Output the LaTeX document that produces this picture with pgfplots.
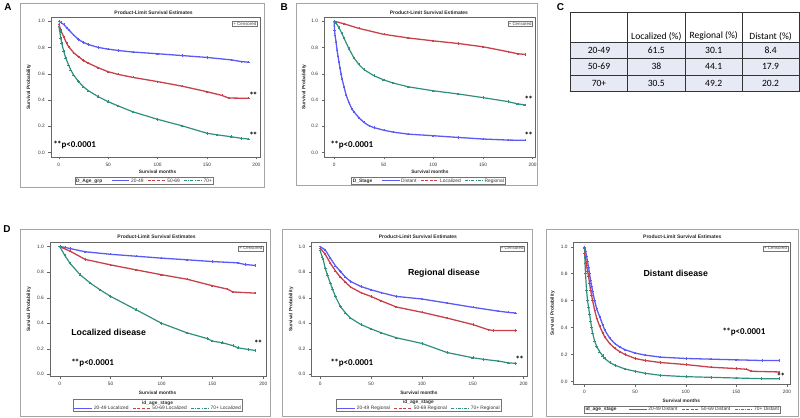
\documentclass[border=0pt]{standalone}
\usepackage{pgfplots}
\pgfplotsset{compat=1.18}
\usepackage{fontspec}
\setmainfont{Liberation Sans}
\newfontfamily\calib{Carlito}
\definecolor{bluec}{RGB}{90,90,245}
\definecolor{redc}{RGB}{200,64,74}
\definecolor{tealc}{RGB}{47,143,125}
\definecolor{framec}{RGB}{165,165,165}
\definecolor{tabfill}{RGB}{231,233,245}
\newcommand{\lgl}[2]{\tikz[baseline=-0.6ex]\draw[#1,line width=0.5pt,#2](0,0)--(18pt,0);}
\newcommand{\st}{*\kern-0.8pt*}
\tikzset{dsh/.style={dash pattern=on 3pt off 1.6pt}, dsd/.style={dash pattern=on 3pt off 1.3pt on 0.7pt off 1.3pt}}
\pgfplotsset{km/.style={scale only axis, anchor=south west,
  axis line style={black!60, line width=0.4pt}, tick style={black!60, line width=0.4pt},
  tick align=outside, tick pos=left, major tick length=2.5pt,
  xtick={0,50,100,150,200}, ytick={0,0.2,0.4,0.6,0.8,1},
  yticklabel style={/pgf/number format/.cd, fixed, fixed zerofill, precision=1},
  /pgf/number format/assume math mode=true,
  tick label style={font=\fontsize{4.8}{5}\selectfont, text=black!80},
  ymin=-0.033, ymax=1.03},
  cb/.style={bluec, line width=1.3pt, mark=+, mark size=1.1pt, mark options={line width=0.35pt}},
  cr/.style={redc, line width=1.3pt, mark=+, mark size=1.1pt, mark options={line width=0.35pt}},
  ct/.style={tealc, line width=1.2pt, mark=+, mark size=1.3pt, mark options={line width=0.4pt}}}
\begin{document}
\begin{tikzpicture}[x=1pt,y=1pt]
\path (0,0) rectangle (800,418);
% frames
\draw[framec, line width=0.8pt] (19,418-3) rectangle (263,418-188);
\draw[framec, line width=0.8pt] (295,418-3) rectangle (537,418-186);
\draw[framec, line width=0.8pt] (19,418-230) rectangle (269,418-417);
\draw[framec, line width=0.8pt] (281,418-230) rectangle (532,418-417);
\draw[framec, line width=0.8pt] (546,418-230) rectangle (798,418-417);

% ---------- Panel A ----------
\begin{axis}[km, at={(49pt,261pt)}, width=210pt, height=140pt, xmin=-8.1, xmax=204]
\addplot[cb] coordinates {(0,1.0)(2,0.99)(5,0.975)(8,0.95)(10,0.935)(15,0.895)(20,0.86)(25,0.838)(30,0.822)(40,0.80)(50,0.787)(60,0.777)(75,0.765)(100,0.752)(125,0.738)(150,0.724)(175,0.705)(185,0.692)(192,0.688)};
\addplot[cr] coordinates {(0,0.98)(2,0.93)(5,0.88)(8,0.83)(10,0.805)(15,0.76)(20,0.73)(25,0.70)(30,0.68)(40,0.645)(50,0.615)(60,0.595)(75,0.572)(100,0.54)(125,0.505)(150,0.463)(165,0.435)(172,0.415)(192,0.413)};
\addplot[ct] coordinates {(0,0.96)(1,0.92)(2,0.87)(3,0.83)(5,0.77)(7,0.72)(10,0.665)(12,0.63)(15,0.59)(20,0.54)(25,0.50)(30,0.47)(40,0.425)(50,0.387)(60,0.355)(75,0.31)(100,0.253)(125,0.203)(150,0.147)(160,0.135)(175,0.12)(185,0.108)(192,0.103)};
\end{axis}
% ---------- Panel B ----------
\begin{axis}[km, at={(323pt,261pt)}, width=212pt, height=140pt, xmin=-10, xmax=203]
\addplot[cb] coordinates {(0,1.0)(0.5,0.93)(1,0.89)(2,0.84)(3,0.78)(4,0.73)(5,0.685)(6,0.64)(7,0.60)(8,0.56)(10,0.50)(12,0.44)(15,0.38)(18,0.33)(20,0.31)(25,0.265)(30,0.23)(35,0.205)(40,0.19)(50,0.17)(60,0.155)(75,0.14)(100,0.128)(125,0.115)(150,0.103)(175,0.095)(192,0.093)};
\addplot[cr] coordinates {(0,1.0)(10,0.98)(25,0.945)(50,0.90)(75,0.872)(100,0.85)(125,0.83)(150,0.805)(175,0.768)(185,0.752)(192,0.747)};
\addplot[ct] coordinates {(0,1.0)(2,0.985)(5,0.95)(8,0.905)(10,0.87)(15,0.79)(20,0.72)(25,0.67)(30,0.632)(40,0.585)(50,0.553)(60,0.528)(75,0.50)(100,0.47)(125,0.446)(150,0.418)(175,0.388)(185,0.37)(192,0.363)};
\end{axis}
% ---------- Panel D1 ----------
\begin{axis}[km, at={(48pt,41pt)}, width=217pt, height=134pt, xmin=-9.8, xmax=203, ymin=-0.016, ymax=1.031]
\addplot[cb] coordinates {(0,1.0)(5,0.995)(10,0.985)(25,0.96)(50,0.94)(75,0.925)(100,0.91)(125,0.897)(150,0.883)(175,0.873)(182,0.86)(192,0.853)};
\addplot[cr] coordinates {(0,1.0)(10,0.965)(25,0.90)(50,0.857)(75,0.818)(100,0.78)(125,0.745)(150,0.694)(165,0.667)(170,0.645)(192,0.636)};
\addplot[ct] coordinates {(0,1.0)(5,0.93)(10,0.87)(20,0.78)(30,0.714)(40,0.66)(50,0.61)(75,0.506)(100,0.40)(125,0.325)(145,0.28)(150,0.26)(160,0.247)(170,0.225)(175,0.208)(185,0.195)(192,0.187)};
\end{axis}
% ---------- Panel D2 ----------
\begin{axis}[km, at={(310pt,41pt)}, width=217pt, height=134pt, xmin=-8.8, xmax=204, ymin=-0.016, ymax=1.031]
\addplot[cb] coordinates {(0,1.0)(5,0.975)(10,0.91)(15,0.85)(20,0.805)(25,0.76)(30,0.727)(40,0.688)(50,0.662)(60,0.64)(75,0.61)(100,0.59)(125,0.558)(150,0.525)(175,0.495)(185,0.485)(192,0.48)};
\addplot[cr] coordinates {(0,0.99)(5,0.94)(10,0.87)(15,0.81)(20,0.76)(25,0.72)(30,0.683)(40,0.64)(50,0.61)(60,0.575)(75,0.527)(100,0.486)(125,0.44)(150,0.39)(165,0.35)(170,0.343)(192,0.343)};
\addplot[ct] coordinates {(0,0.97)(2,0.92)(3,0.90)(5,0.83)(7,0.78)(10,0.714)(12,0.67)(15,0.61)(20,0.53)(25,0.48)(30,0.44)(40,0.39)(50,0.356)(60,0.325)(75,0.286)(100,0.242)(125,0.17)(150,0.13)(160,0.118)(175,0.104)(185,0.09)(192,0.086)};
\end{axis}
% ---------- Panel D3 ----------
\begin{axis}[km, at={(573pt,33pt)}, width=217pt, height=142pt, xmin=-10.8, xmax=203, ymin=-0.022, ymax=1.03]
\addplot[cb] coordinates {(0,1.0)(1,0.97)(2,0.93)(3,0.89)(4,0.85)(5,0.80)(6,0.75)(7,0.71)(8,0.67)(10,0.60)(12,0.54)(15,0.48)(18,0.42)(20,0.38)(25,0.32)(30,0.28)(35,0.255)(40,0.235)(50,0.21)(60,0.195)(75,0.18)(100,0.17)(125,0.165)(150,0.16)(175,0.155)(192,0.155)};
\addplot[cr] coordinates {(0,0.95)(1,0.92)(2,0.86)(3,0.82)(4,0.78)(5,0.73)(6,0.68)(7,0.64)(8,0.60)(10,0.53)(12,0.47)(15,0.41)(18,0.36)(20,0.33)(25,0.28)(30,0.245)(35,0.22)(40,0.20)(50,0.17)(60,0.155)(75,0.14)(100,0.125)(125,0.105)(150,0.095)(160,0.09)(165,0.075)(192,0.07)};
\addplot[ct] coordinates {(0,0.99)(0.5,0.88)(1,0.80)(2,0.68)(3,0.60)(4,0.55)(5,0.50)(6,0.45)(7,0.40)(8,0.36)(10,0.30)(12,0.26)(15,0.22)(18,0.19)(20,0.17)(25,0.14)(30,0.12)(40,0.092)(50,0.075)(60,0.06)(75,0.045)(100,0.035)(125,0.03)(150,0.025)(175,0.02)(192,0.02)};
\end{axis}

% ---------- common texts ----------
\tikzset{ttl/.style={font=\bfseries\fontsize{5}{6}\selectfont, text=black!85},
  xl/.style={font=\bfseries\fontsize{4.8}{6}\selectfont, text=black!85},
  yl/.style={font=\bfseries\fontsize{4.8}{6}\selectfont, text=black!85, rotate=90},
  cens/.style={draw=black!55, line width=0.35pt, inner sep=0.9pt, font=\fontsize{4.4}{5}\selectfont, text=black!75, anchor=north east},
  leg/.style={draw=black!55, line width=0.4pt, inner sep=1.2pt, font=\fontsize{4.9}{5.8}\selectfont, text=black!80},
  pv/.style={font=\calib\bfseries\fontsize{9}{10}\selectfont, anchor=west},
  stn/.style={font=\calib\bfseries\fontsize{9}{10}\selectfont},
  dis/.style={font=\bfseries\fontsize{8.8}{10}\selectfont},
  plab/.style={font=\bfseries\fontsize{10}{11}\selectfont}}
% Panel A texts
\node[plab] at (6,418-6.5) {A};
\node[ttl] at (152,418-12) {Product-Limit Survival Estimates};
\node[xl] at (156,418-172) {Survival months};
\node[yl] at (27,418-87) {Survival Probability};
\node[cens] at (256,418-21) {+ Censored};
\node[pv] at (48,418-145) {\st p<0.0001};
\node[stn] at (252,418-95) {\st};
\node[stn] at (252,418-135) {\st};
\node[leg] at (142.5,418-181) {\textbf{D\_Age\_grp}\hspace{9pt}\lgl{bluec}{solid} 20-49\hspace{4pt}\lgl{redc}{dsh} 50-69\hspace{4pt}\lgl{tealc}{dsd} 70+};
% Panel B texts
\node[plab] at (283,418-6.5) {B};
\node[ttl] at (428,418-12) {Product-Limit Survival Estimates};
\node[xl] at (429,418-172) {Survival months};
\node[yl] at (303,418-87) {Survival Probability};
\node[cens] at (532,418-21) {+ Censored};
\node[pv] at (326,418-145) {\st p<0.0001};
\node[stn] at (528,418-99) {\st};
\node[stn] at (528,418-135) {\st};
\node[leg] at (427.5,418-181) {\textbf{D\_Stage}\hspace{9pt}\lgl{bluec}{solid} Distant\hspace{4pt}\lgl{redc}{dsh} Localized\hspace{4pt}\lgl{tealc}{dsd} Regional};
% Panel C table
\node[plab] at (560,418-7) {C};
\fill[white] (570,418-12) rectangle (799,418-42);
\fill[tabfill] (570,418-42) rectangle (799,418-91);
\draw[black!80, line width=0.7pt] (570,418-12) rectangle (799,418-91);
\foreach \yy in {42,58,75} {\draw[black!80, line width=0.7pt] (570,418-\yy) -- (799,418-\yy);}
\foreach \xx in {627,685,742} {\draw[black!80, line width=0.7pt] (\xx,418-12) -- (\xx,418-91);}
\tikzset{tb/.style={font=\calib\fontsize{9.6}{11}\selectfont, text=black}}
\node[tb] at (656,418-36) {Localized (\%)};
\node[tb] at (713.5,418-36) {Regional (\%)};
\node[tb] at (770.5,418-36) {Distant (\%)};
\node[tb] at (598.5,418-50) {20-49}; \node[tb] at (656,418-50) {61.5}; \node[tb] at (713.5,418-50) {30.1}; \node[tb] at (770.5,418-50) {8.4};
\node[tb] at (598.5,418-66.5) {50-69}; \node[tb] at (656,418-66.5) {38}; \node[tb] at (713.5,418-66.5) {44.1}; \node[tb] at (770.5,418-66.5) {17.9};
\node[tb] at (598.5,418-83) {70+}; \node[tb] at (656,418-83) {30.5}; \node[tb] at (713.5,418-83) {49.2}; \node[tb] at (770.5,418-83) {20.2};
% Panel D1 texts
\node[plab] at (5,418-229) {D};
\node[ttl] at (155,418-237) {Product-Limit Survival Estimates};
\node[xl] at (156,418-393) {Survival months};
\node[yl] at (27,418-310) {Survival Probability};
\node[cens] at (262,418-246) {+ Censored};
\node[dis, anchor=west] at (66,418-333) {Localized disease};
\node[pv] at (66,418-364) {\st p<0.0001};
\node[stn] at (257,418-344) {\st};
\node[leg, align=center] at (156,418-406) {\textbf{id\_age\_stage}\\ \lgl{bluec}{solid} 20-49 Localized\hspace{4pt}\lgl{redc}{dsh} 50-69 Localized\hspace{4pt}\lgl{tealc}{dsd} 70+ Localized};
% Panel D2 texts
\node[ttl] at (417,418-237) {Product-Limit Survival Estimates};
\node[xl] at (418,418-393) {Survival months};
\node[yl] at (290,418-310) {Survival Probability};
\node[cens] at (524,418-246) {+ Censored};
\node[dis] at (443,418-274) {Regional disease};
\node[pv] at (326,418-364) {\st p<0.0001};
\node[stn] at (519,418-360) {\st};
\node[leg, align=center] at (417.5,418-406) {\textbf{id\_age\_stage}\\ \lgl{bluec}{solid} 20-49 Regional\hspace{4pt}\lgl{redc}{dsh} 50-69 Regional\hspace{4pt}\lgl{tealc}{dsd} 70+ Regional};
% Panel D3 texts
\node[ttl] at (682,418-237) {Product-Limit Survival Estimates};
\node[xl] at (681,418-401) {Survival months};
\node[yl] at (552,418-314) {Survival Probability};
\node[cens] at (788,418-246) {+ Censored};
\node[dis] at (675.5,418-274) {Distant disease};
\node[pv] at (719,418-333) {\st p<0.0001};
\node[stn] at (781,418-377) {\st};
\node[leg] at (682,418-410) {\textbf{id\_age\_stage}\hspace{12pt}\lgl{bluec}{solid} 20-49 Distant\hspace{4pt}\lgl{redc}{dsh} 50-69 Distant\hspace{4pt}\lgl{tealc}{dsd} 70+ Distant};
\end{tikzpicture}
\end{document}
